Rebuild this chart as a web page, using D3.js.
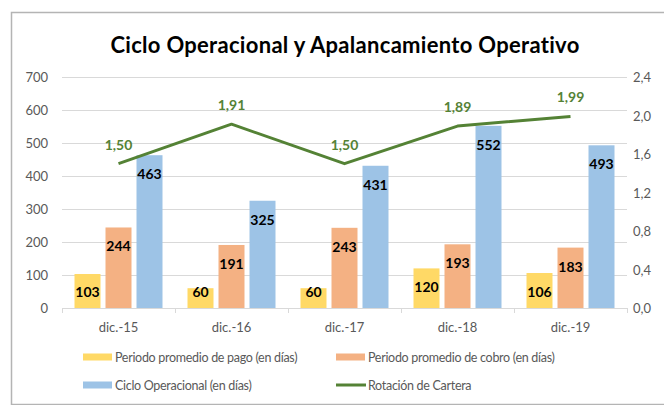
<!DOCTYPE html>
<html>
<head>
<meta charset="utf-8">
<script src="https://cdn.jsdelivr.net/npm/d3@7"></script>
<style>
  body { margin: 0; background: #fff; }
  svg text { font-family: Lato, "Open Sans", sans-serif; }
</style>
</head>
<body>
<div id="chart"></div>
<script>
// chart data
var categories = ['dic.-15', 'dic.-16', 'dic.-17', 'dic.-18', 'dic.-19']
var pago = [103, 60, 60, 120, 106]
var cobro = [244, 191, 243, 193, 183]
var ciclo = [463, 325, 431, 552, 493]
var rotacion = [1.50, 1.91, 1.50, 1.89, 1.99]
var leftTicks = [0, 100, 200, 300, 400, 500, 600, 700]
var rightTicks = [0, 0.4, 0.8, 1.2, 1.6, 2.0, 2.4]

var seriesNames = ['Periodo promedio de pago (en días)', 'Periodo promedio de cobro (en días)', 'Ciclo Operacional (en días)']
var lineName = 'Rotación de Cartera'
var cols = ['#FFD966', '#F4B183', '#9DC3E6']
var lineCol = '#548235'

var W = 664, H = 405
var svg = d3.select('#chart').append('svg').attr('width', W).attr('height', H)

// outer frame
svg.append('rect')
  .attr('x', 11.5).attr('y', 12.5)
  .attr('width', 700).attr('height', 392)
  .attr('fill', 'none').attr('stroke', '#b4b4b4').attr('stroke-width', 1.5)

// title
svg.append('text')
  .attr('x', 345).attr('y', 53)
  .attr('text-anchor', 'middle')
  .attr('font-size', 22).attr('font-weight', 'bold')
  .attr('letter-spacing', 0.3)
  .attr('fill', '#000')
  .text('Ciclo Operacional y Apalancamiento Operativo')

var px0 = 62, px1 = 627, pyTop = 77, pyBot = 308

var x = d3.scaleBand().domain(categories).range([px0, px1])
var y = d3.scaleLinear().domain([0, 700]).range([pyBot, pyTop])
var y2 = d3.scaleLinear().domain([0, 2.4]).range([pyBot, pyTop])

var barW = 26, gap = 5
var groupW = barW * 3 + gap * 2
var xs = d3.scaleBand().domain([0, 1, 2]).range([0, groupW]).paddingInner(gap / (barW + gap))

// gridlines
svg.append('g').selectAll('line').data(leftTicks.slice(1)).join('line')
  .attr('x1', px0).attr('x2', px1)
  .attr('y1', function(d) { return Math.round(y(d)) + 0.5 })
  .attr('y2', function(d) { return Math.round(y(d)) + 0.5 })
  .attr('stroke', '#d9d9d9').attr('stroke-width', 1)

// left axis labels
svg.append('g').selectAll('text').data(leftTicks).join('text')
  .attr('x', 48).attr('y', function(d) { return y(d) + 5 })
  .attr('text-anchor', 'end')
  .attr('font-size', 13).attr('fill', '#595959')
  .text(function(d) { return d })

// right axis labels
svg.append('g').selectAll('text').data(rightTicks).join('text')
  .attr('x', 633).attr('y', function(d) { return y2(d) + 5 })
  .attr('font-size', 13).attr('fill', '#595959')
  .text(function(d) { return d3.format('.1f')(d).replace('.', ',') })

// bars
var series = [pago, cobro, ciclo]
series.forEach(function(vals, si) {
  var g = svg.append('g')
  g.selectAll('rect').data(vals).join('rect')
    .attr('x', function(d, i) { return x(categories[i]) + (x.bandwidth() - groupW) / 2 + xs(si) })
    .attr('y', function(d) { return y(d) })
    .attr('width', xs.bandwidth())
    .attr('height', function(d) { return pyBot - y(d) })
    .attr('fill', cols[si])
  // label inside end, kept above the baseline for short bars
  g.selectAll('text').data(vals).join('text')
    .attr('x', function(d, i) { return x(categories[i]) + (x.bandwidth() - groupW) / 2 + xs(si) + xs.bandwidth() / 2 })
    .attr('y', function(d) { return Math.min(y(d) + 24, pyBot - 11) })
    .attr('text-anchor', 'middle')
    .attr('font-size', 14).attr('font-weight', 'bold').attr('fill', '#000')
    .text(function(d) { return d })
})

// x axis
svg.append('line')
  .attr('x1', px0).attr('x2', px1).attr('y1', pyBot + 0.5).attr('y2', pyBot + 0.5)
  .attr('stroke', '#d9d9d9')
var bounds = categories.map(function(c) { return x(c) }).concat([px1])
svg.append('g').selectAll('line').data(bounds).join('line')
  .attr('x1', function(d) { return Math.round(d) + 0.5 })
  .attr('x2', function(d) { return Math.round(d) + 0.5 })
  .attr('y1', pyBot).attr('y2', pyBot + 5)
  .attr('stroke', '#d9d9d9')
svg.append('g').selectAll('text').data(categories).join('text')
  .attr('x', function(d) { return x(d) + x.bandwidth() / 2 })
  .attr('y', 332)
  .attr('text-anchor', 'middle')
  .attr('font-size', 13).attr('fill', '#595959')
  .text(function(d) { return d })

// line series
var line = d3.line()
  .x(function(d, i) { return x(categories[i]) + x.bandwidth() / 2 })
  .y(function(d) { return y2(d) })
svg.append('path').datum(rotacion)
  .attr('d', line)
  .attr('fill', 'none').attr('stroke', lineCol).attr('stroke-width', 3)
  .attr('stroke-linejoin', 'round')
svg.append('g').selectAll('text').data(rotacion).join('text')
  .attr('x', function(d, i) { return x(categories[i]) + x.bandwidth() / 2 })
  .attr('y', function(d) { return y2(d) - 14 })
  .attr('text-anchor', 'middle')
  .attr('font-size', 14).attr('font-weight', 'bold').attr('fill', lineCol)
  .text(function(d) { return d3.format('.2f')(d).replace('.', ',') })

// legend
var legItems = [
  { name: seriesNames[0], col: cols[0], type: 'bar', lx: 83, ly: 357 },
  { name: seriesNames[1], col: cols[1], type: 'bar', lx: 336, ly: 357 },
  { name: seriesNames[2], col: cols[2], type: 'bar', lx: 83, ly: 385 },
  { name: lineName, col: lineCol, type: 'line', lx: 336, ly: 385 }
]
var leg = svg.append('g').selectAll('g').data(legItems).join('g')
  .attr('transform', function(d) { return 'translate(' + d.lx + ',' + d.ly + ')' })
leg.filter(function(d) { return d.type == 'bar' }).append('rect')
  .attr('x', 0).attr('y', -3.5).attr('width', 29).attr('height', 7)
  .attr('fill', function(d) { return d.col })
leg.filter(function(d) { return d.type == 'line' }).append('line')
  .attr('x1', 0).attr('x2', 30).attr('y1', 0).attr('y2', 0)
  .attr('stroke', function(d) { return d.col }).attr('stroke-width', 3)
leg.append('text')
  .attr('x', 32).attr('y', 5)
  .attr('font-size', 12.5).attr('letter-spacing', -0.3).attr('fill', '#595959')
  .text(function(d) { return d.name })
</script>
</body>
</html>
